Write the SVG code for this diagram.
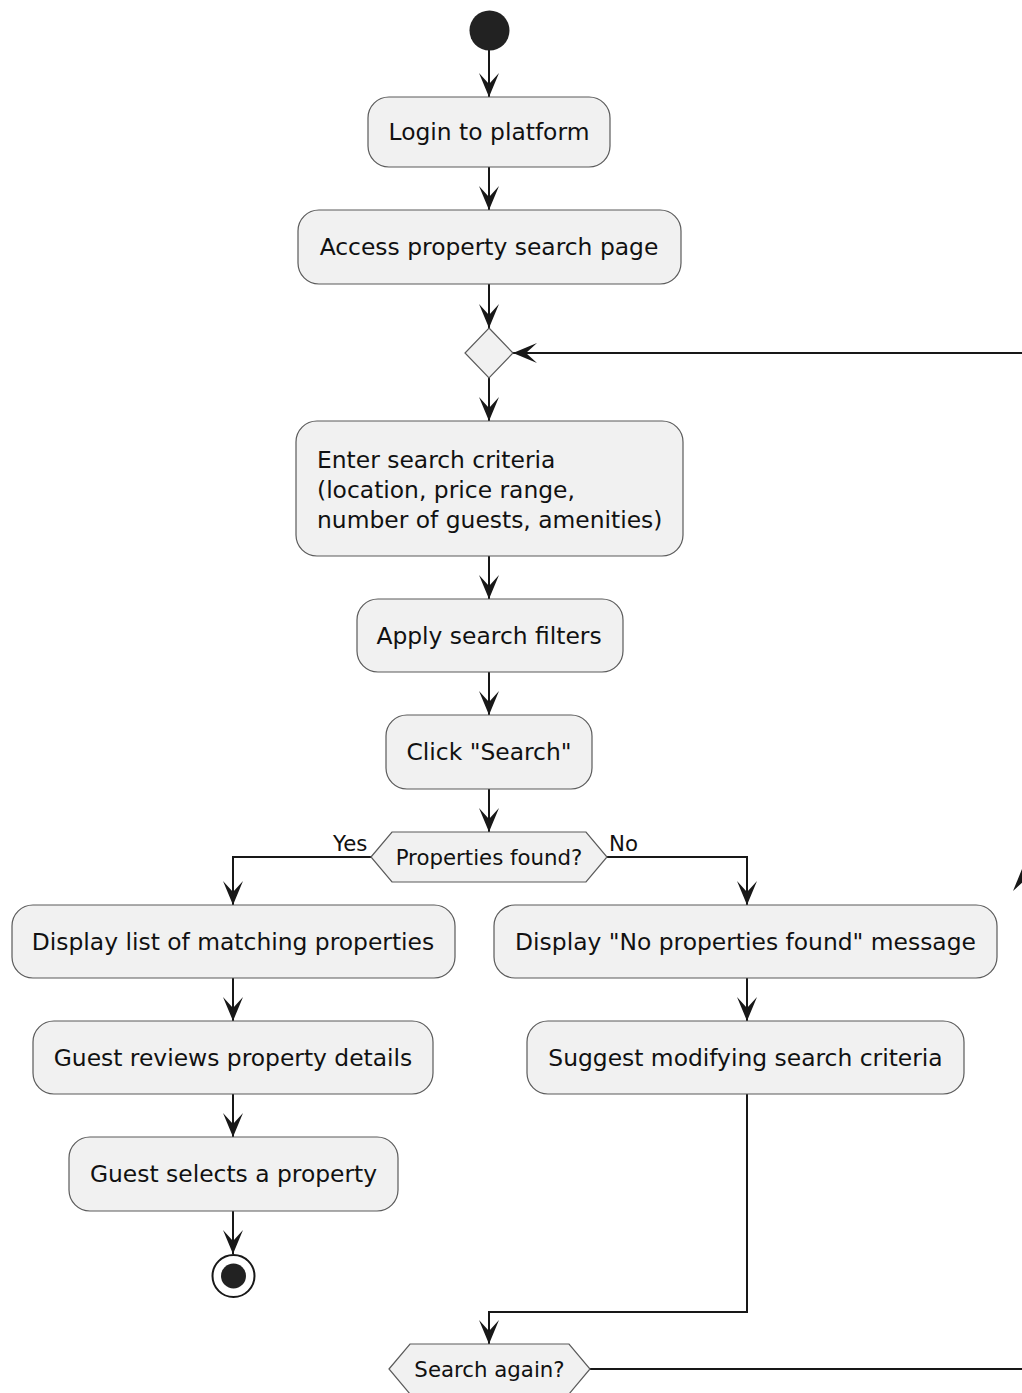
<svg xmlns="http://www.w3.org/2000/svg" width="1022" height="1393" viewBox="0 0 1022 1393">
  <defs>
    <marker id="arrow" markerUnits="userSpaceOnUse" markerWidth="28" markerHeight="24" viewBox="-26 -12 28 24" refX="0" refY="0" orient="auto" overflow="visible">
      <path d="M0,0 L-24,-10 L-13,0 L-24,10 Z" fill="#181818"/>
    </marker>
    <style>
      .act { fill: #F1F1F1; stroke: #5a5a5a; stroke-width: 1.2; }
      .txt { font-family: "DejaVu Sans", sans-serif; font-size: 23.4px; fill: #111111; }
      .htxt { font-family: "DejaVu Sans", sans-serif; font-size: 21.3px; fill: #111111; }
      .mid { text-anchor: middle; }
      .flow { fill: none; stroke: #181818; stroke-width: 2; }
    </style>
  </defs>
  <rect width="1022" height="1393" fill="#FFFFFF"/>

  <!-- connectors -->
  <g id="connectors">
    <path class="flow" d="M489,50 V97" marker-end="url(#arrow)"/>
    <path class="flow" d="M489,167 V210" marker-end="url(#arrow)"/>
    <path class="flow" d="M489,284 V328" marker-end="url(#arrow)"/>
    <path class="flow" d="M489,378 V421" marker-end="url(#arrow)"/>
    <path class="flow" d="M489,556 V599" marker-end="url(#arrow)"/>
    <path class="flow" d="M489,672 V715" marker-end="url(#arrow)"/>
    <path class="flow" d="M489,789 V832" marker-end="url(#arrow)"/>
    <path class="flow" d="M371,857 H233 V905" marker-end="url(#arrow)"/>
    <path class="flow" d="M607,857 H747 V905" marker-end="url(#arrow)"/>
    <path class="flow" d="M233,978 V1021" marker-end="url(#arrow)"/>
    <path class="flow" d="M747,978 V1021" marker-end="url(#arrow)"/>
    <path class="flow" d="M233,1094 V1137" marker-end="url(#arrow)"/>
    <path class="flow" d="M233,1211 V1254" marker-end="url(#arrow)"/>
    <path class="flow" d="M747,1094 V1312 H489 V1344" marker-end="url(#arrow)"/>
    <!-- loop back: leaves the right edge and returns to the merge diamond -->
    <path class="flow" d="M590,1369 H1040"/>
    <path class="flow" d="M1040,353 H513" marker-end="url(#arrow)"/>
    <path class="flow" d="M1024,1369 V866"/>
    <path d="M1024,864 L1013,891 L1024,881 L1035,891 Z" fill="#181818"/>
    <text class="htxt" x="333" y="851">Yes</text>
    <text class="htxt" x="609" y="851">No</text>
  </g>

  <g id="start">
    <circle cx="489.5" cy="30.5" r="20" fill="#222222"/>
  </g>

  <g id="login">
    <rect class="act" x="368" y="97" width="242" height="70" rx="21"/>
    <text class="txt mid" x="489" y="140">Login to platform</text>
  </g>

  <g id="access-search">
    <rect class="act" x="298" y="210" width="383" height="74" rx="21"/>
    <text class="txt mid" x="489" y="255">Access property search page</text>
  </g>

  <g id="merge">
    <polygon class="act" points="489,328 513,353 489,378 465,353"/>
  </g>

  <g id="enter-criteria">
    <rect class="act" x="296" y="421" width="387" height="135" rx="21"/>
    <text class="txt" x="317" y="468">Enter search criteria</text>
    <text class="txt" x="317" y="498">(location, price range,</text>
    <text class="txt" x="317" y="528">number of guests, amenities)</text>
  </g>

  <g id="apply-filters">
    <rect class="act" x="357" y="599" width="266" height="73" rx="21"/>
    <text class="txt mid" x="489" y="644">Apply search filters</text>
  </g>

  <g id="click-search">
    <rect class="act" x="386" y="715" width="206" height="74" rx="21"/>
    <text class="txt mid" x="489" y="760">Click "Search"</text>
  </g>

  <g id="properties-found">
    <polygon class="act" points="371,857 392,832 586,832 607,857 586,882 392,882"/>
    <text class="htxt mid" x="489" y="865">Properties found?</text>
  </g>

  <g id="display-list">
    <rect class="act" x="12" y="905" width="443" height="73" rx="21"/>
    <text class="txt mid" x="233" y="950">Display list of matching properties</text>
  </g>

  <g id="display-none">
    <rect class="act" x="494" y="905" width="503" height="73" rx="21"/>
    <text class="txt mid" x="745.5" y="950">Display "No properties found" message</text>
  </g>

  <g id="reviews-details">
    <rect class="act" x="33" y="1021" width="400" height="73" rx="21"/>
    <text class="txt mid" x="233" y="1066">Guest reviews property details</text>
  </g>

  <g id="suggest-modify">
    <rect class="act" x="527" y="1021" width="437" height="73" rx="21"/>
    <text class="txt mid" x="745.5" y="1066">Suggest modifying search criteria</text>
  </g>

  <g id="selects-property">
    <rect class="act" x="69" y="1137" width="329" height="74" rx="21"/>
    <text class="txt mid" x="233.5" y="1182">Guest selects a property</text>
  </g>

  <g id="stop">
    <circle cx="233.5" cy="1276" r="21" fill="#FFFFFF" stroke="#181818" stroke-width="2"/>
    <circle cx="233.5" cy="1276" r="12.5" fill="#222222"/>
  </g>

  <g id="search-again">
    <polygon class="act" points="389,1369 410,1344 569,1344 590,1369 569,1394 410,1394"/>
    <text class="htxt mid" x="489.5" y="1377">Search again?</text>
  </g>
</svg>
